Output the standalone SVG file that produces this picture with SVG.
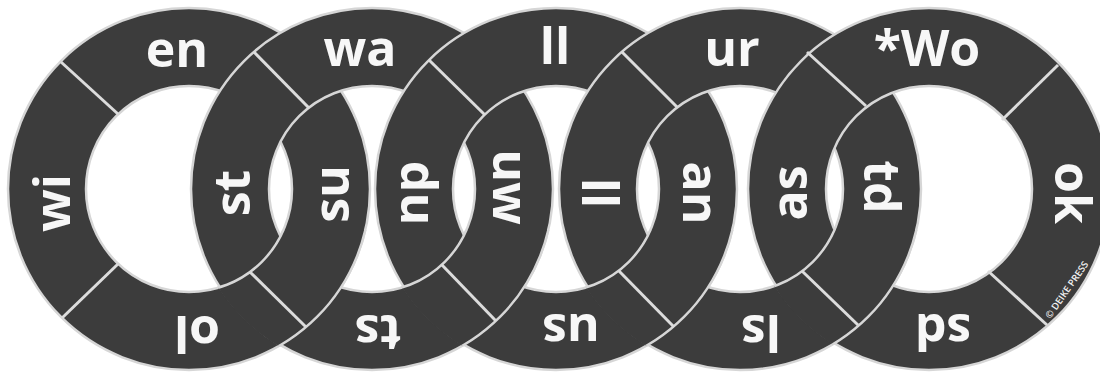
<svg xmlns="http://www.w3.org/2000/svg" xmlns:xlink="http://www.w3.org/1999/xlink" width="1107" height="376" viewBox="0 0 1107 376">
<style>
.band{fill:#3c3c3c}
.edge{fill:none;stroke:#d6d6d6;stroke-width:2.5}
.dv{stroke:#dcdcdc;stroke-width:3}
.t{font-family:"Open Sans","Liberation Sans",sans-serif;font-weight:700;font-size:50px;fill:#f7f7f7;text-anchor:middle}
.c{font-family:"Open Sans","Liberation Sans",sans-serif;font-weight:600;font-size:9.5px;fill:#f0f0f0;text-anchor:middle}
</style>
<defs>
<path id="ann" fill-rule="evenodd" d="M181,0A181,181 0 1,0 -181,0A181,181 0 1,0 181,0ZM103,0A103,103 0 1,0 -103,0A103,103 0 1,0 103,0Z"/>
<clipPath id="cb1"><path d="M193.7,230A183,183 0 0,0 550.3,230Z"/></clipPath>
<clipPath id="cb2"><path d="M377.7,230A183,183 0 0,0 734.3,230Z"/></clipPath>
<clipPath id="cb3"><path d="M561.7,230A183,183 0 0,0 918.3,230Z"/></clipPath>
<clipPath id="cb4"><path d="M750.7,230A183,183 0 0,0 1107.3,230Z"/></clipPath>
<clipPath id="crop5"><rect x="700" y="0" width="400" height="376"/></clipPath>
</defs>
<rect width="1107" height="376" fill="#ffffff"/>

<g id="ring1">
<use xlink:href="#ann" class="band" transform="translate(189,189)"/>
<use xlink:href="#ann" class="edge" transform="translate(189,189)"/>
<line class="dv" x1="118" y1="114" x2="61" y2="62"/>
<line class="dv" x1="118" y1="264" x2="62" y2="318"/>
<line class="dv" x1="262" y1="116" x2="317" y2="61"/>
<line class="dv" x1="250" y1="272" x2="306" y2="327"/>
<text class="t" x="177" y="67">en</text>
<text class="t" transform="translate(70,203) rotate(-90)">wi</text>
<text class="t" transform="translate(349,194) rotate(-90)">su</text>
<text class="t" transform="translate(197,316) rotate(180)">ol</text>
</g>

<g id="ring2">
<use xlink:href="#ann" class="band" transform="translate(372,189)"/>
<use xlink:href="#ann" class="edge" transform="translate(372,189)"/>
<line class="dv" x1="309" y1="108" x2="254" y2="52"/>
<line class="dv" x1="299" y1="262" x2="244" y2="317"/>
<line class="dv" x1="445" y1="116" x2="500" y2="61"/>
<line class="dv" x1="442" y1="265" x2="496" y2="321"/>
<text class="t" x="360" y="66">wa</text>
<text class="t" transform="translate(250,193) rotate(-90)">st</text>
<text class="t" transform="translate(493,187) rotate(90)">uw</text>
<text class="t" transform="translate(378,315) rotate(180)">ts</text>
</g>

<g id="ring3">
<use xlink:href="#ann" class="band" transform="translate(556,189)"/>
<use xlink:href="#ann" class="edge" transform="translate(556,189)"/>
<line class="dv" x1="485" y1="115" x2="429" y2="60"/>
<line class="dv" x1="483" y1="262" x2="428" y2="317"/>
<line class="dv" x1="629" y1="116" x2="684" y2="61"/>
<line class="dv" x1="619" y1="271" x2="674" y2="327"/>
<text class="t" x="555" y="64">ll</text>
<text class="t" transform="translate(401,193) rotate(90)">du</text>
<text class="t" transform="translate(683,193) rotate(90)">an</text>
<text class="t" transform="translate(571,314) rotate(180)">us</text>
</g>

<g id="ring4">
<use xlink:href="#ann" class="band" transform="translate(740,189)"/>
<use xlink:href="#ann" class="edge" transform="translate(740,189)"/>
<line class="dv" x1="677" y1="107" x2="622" y2="52"/>
<line class="dv" x1="667" y1="262" x2="612" y2="317"/>
<line class="dv" x1="813" y1="116" x2="868" y2="61"/>
<line class="dv" x1="802" y1="271" x2="858" y2="325"/>
<text class="t" x="732" y="66">ur</text>
<text class="t" transform="translate(620,193) rotate(-90)">ll</text>
<text class="t" transform="translate(864,187) rotate(90)">td</text>
<text class="t" transform="translate(761,315) rotate(180)">ls</text>
</g>

<g id="ring5">
<g clip-path="url(#crop5)">
<use xlink:href="#ann" class="band" transform="translate(929,189)"/>
<use xlink:href="#ann" class="edge" transform="translate(929,189)"/>
</g>
<line class="dv" x1="866" y1="106" x2="807" y2="52"/>
<line class="dv" x1="856" y1="262" x2="801" y2="317"/>
<line class="dv" x1="1002" y1="120" x2="1058" y2="65"/>
<line class="dv" x1="988" y1="271" x2="1047" y2="325"/>
<text class="t" x="927" y="66">*Wo</text>
<text class="t" transform="translate(807,193) rotate(-90)">as</text>
<text class="t" transform="translate(1055,193) rotate(90)">ok</text>
<text class="t" transform="translate(943,314) rotate(180)">sd</text>
<text class="c" transform="translate(1067,290) rotate(-55)" y="3">© DEIKE PRESS</text>
</g>

<g id="connectors">
<g clip-path="url(#cb1)">
<use xlink:href="#ann" class="band" transform="translate(189,189)"/>
<use xlink:href="#ann" class="edge" transform="translate(189,189)"/>
<line class="dv" x1="250" y1="272" x2="306" y2="327"/>
</g>
<g clip-path="url(#cb2)">
<use xlink:href="#ann" class="band" transform="translate(372,189)"/>
<use xlink:href="#ann" class="edge" transform="translate(372,189)"/>
<line class="dv" x1="442" y1="265" x2="496" y2="321"/>
</g>
<g clip-path="url(#cb3)">
<use xlink:href="#ann" class="band" transform="translate(556,189)"/>
<use xlink:href="#ann" class="edge" transform="translate(556,189)"/>
<line class="dv" x1="619" y1="271" x2="674" y2="327"/>
</g>
<g clip-path="url(#cb4)">
<use xlink:href="#ann" class="band" transform="translate(740,189)"/>
<use xlink:href="#ann" class="edge" transform="translate(740,189)"/>
<line class="dv" x1="802" y1="271" x2="858" y2="325"/>
</g>
</g>
</svg>
